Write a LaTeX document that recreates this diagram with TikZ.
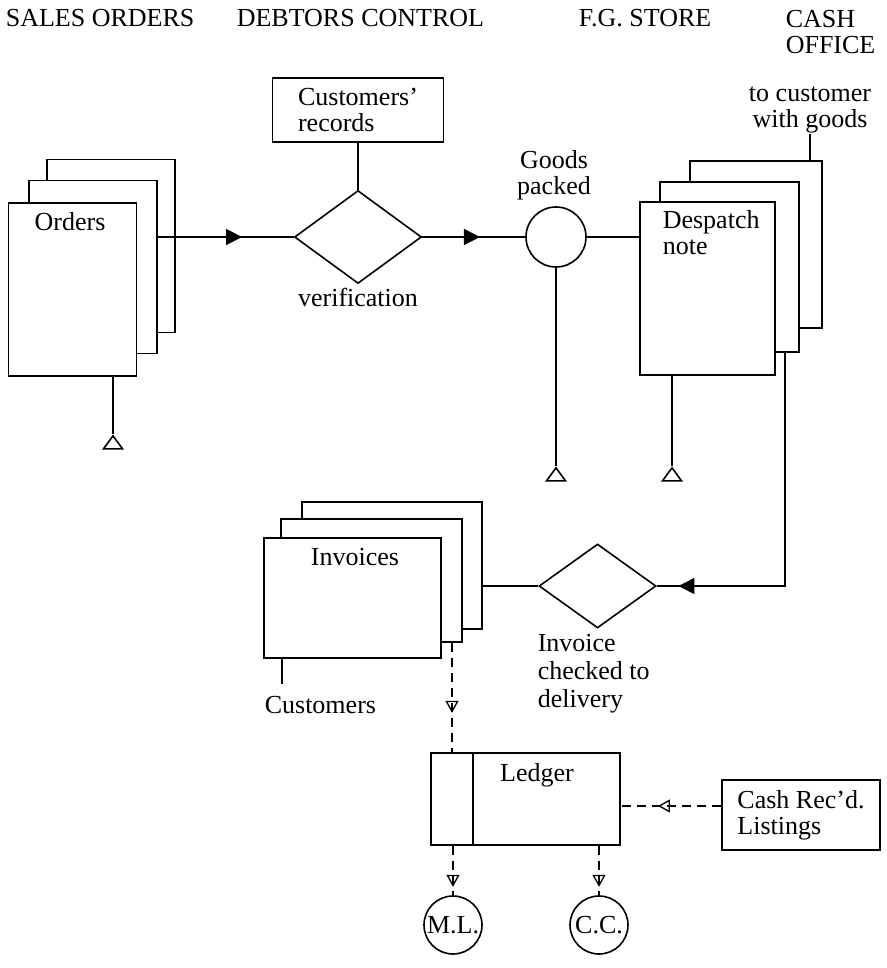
\documentclass[tikz,border=0pt]{standalone}
\usepackage{fontspec}
\setmainfont{Liberation Serif}
\usetikzlibrary{arrows.meta,shapes.geometric,decorations.markings}

\begin{document}
\begin{tikzpicture}[x=1pt,y=-1pt,line width=1.6pt,
		every node/.style={font=\fontsize{26}{26}\selectfont},
		txt/.style={inner sep=0pt,align=left},
		sheet/.style 2 args={draw,fill=white,inner sep=0pt,minimum width=#1,minimum height=#2},
		box/.style={draw,inner sep=0pt,align=left},
		decision/.style 2 args={draw,diamond,inner sep=0pt,minimum width=#1,minimum height=#2},
		filetri/.style={draw,isosceles triangle,shape border rotate=90,isosceles triangle stretches,inner sep=0pt,minimum width=19pt,minimum height=13pt},
		dashes/.style={dash pattern=on 9pt off 6pt},
		solidtip/.style={postaction={decorate},decoration={markings,mark=at position #1 with {\arrow{Triangle[length=16pt,width=16pt]}}}},
		opentip/.style={postaction={decorate},decoration={markings,mark=at position #1 with {\arrow{Triangle[open,length=12pt,width=13pt,line width=1.3pt]}}}}]
	\useasboundingbox (0,0) rectangle (886,968);

	\node[txt,anchor=west] (hsales) at (5,18) {SALES ORDERS};
	\node[txt,anchor=west] (hdebt) at (236,18) {DEBTORS CONTROL};
	\node[txt,anchor=west] (hstore) at (578,18) {F.G. STORE};
	\node[txt,anchor=north west] (hcash) at (785,9) {CASH\\OFFICE};

	\node[sheet={128pt}{173pt}] (ord3) at (111,246) {};
	\node[sheet={128pt}{173pt}] (ord2) at (93,267) {};
	\node[sheet={128pt}{173pt}] (ord1) at (72.5,289.5) {};
	\node[txt] (ordlbl) at (70,222) {Orders};
	\node[filetri] (ordfile) at (113,444) {};

	\node[box,minimum width=171pt,minimum height=64pt] (recs) at (358,110) {Customers'\\records};
	\node[decision={127pt}{93pt}] (verif) at (358,237) {};
	\node[txt,anchor=north] (veriflbl) at (358,287) {verification};

	\node[draw,circle,minimum size=60pt,inner sep=0pt] (goods) at (556,237) {};
	\node[txt,anchor=south,align=center] (goodslbl) at (554,201) {Goods\\packed};
	\node[filetri] (goodsfile) at (556,476) {};

	\node[sheet={132pt}{167pt}] (des3) at (756,244.5) {};
	\node[sheet={139pt}{170pt}] (des2) at (729.5,267) {};
	\node[sheet={135pt}{173pt}] (des1) at (707.5,288.5) {};
	\node[txt,anchor=north west] (deslbl) at (662,210) {Despatch\\note};
	\node[filetri] (desfile) at (672,476) {};
	\node[txt,anchor=south,align=center] (tocust) at (810,134) {to customer\\with goods};

	\node[sheet={180pt}{127pt}] (inv3) at (392,565.5) {};
	\node[sheet={181pt}{123pt}] (inv2) at (371.5,580.5) {};
	\node[sheet={177pt}{120pt}] (inv1) at (352.5,598) {};
	\node[txt] (invlbl) at (355,557) {Invoices};
	\node[txt,anchor=west] (cust) at (264,705) {Customers};
	\coordinate (custend) at (282,684);

	\node[decision={117pt}{84pt}] (chk) at (597.5,586) {};
	\node[txt,anchor=north west,font=\fontsize{26}{28}\selectfont] (chklbl) at (537,633) {Invoice\\checked to\\delivery};
	\coordinate (bend) at (785,586);

	\node[draw,minimum width=42pt,minimum height=92pt,inner sep=0pt] (ledkey) at (452,799) {};
	\node[draw,minimum width=147pt,minimum height=92pt,inner sep=0pt] (ledger) at (546.5,799) {};
	\node[txt] (ledlbl) at (537,775) {Ledger};
	\node[box,minimum width=158pt,minimum height=70pt] (cash) at (801,815) {Cash Rec'd.\\Listings};

	\node[draw,circle,minimum size=58pt,inner sep=0pt] (ml) at (453,925) {M.L.};
	\node[draw,circle,minimum size=58pt,inner sep=0pt] (cc) at (599,925) {C.C.};

	\draw[solidtip=0.62] (ord2.east |- verif.west) -- (verif.west);
	\draw (recs.south) -- (verif.north);
	\draw[solidtip=0.56] (verif.east) -- (goods.west);
	\draw (goods.east) -- (des1.west |- goods.east);
	\draw (ordfile.north |- ord1.south) -- (ordfile.north);
	\draw (goods.south) -- (goodsfile.north);
	\draw (desfile.north |- des1.south) -- (desfile.north);
	\draw (tocust.south |- des3.north) -- (tocust.south);
	\draw[solidtip=0.94] (bend |- des2.south) -- (bend) -- (chk.east);
	\draw (chk.west) -- (inv3.east |- chk.west);
	\draw (inv1.south -| custend) -- (custend);
	\draw[dashes,opentip=0.64] (ledkey.north |- inv2.south) -- (ledkey.north);
	\draw[dashes,opentip=0.63] (cash.west |- 0,806) -- (ledger.east |- 0,806);
	\draw[dashes,opentip=0.83] (ml.north |- ledkey.south) -- (ml.north);
	\draw[dashes,opentip=0.83] (cc.north |- ledger.south) -- (cc.north);
\end{tikzpicture}
\end{document}
